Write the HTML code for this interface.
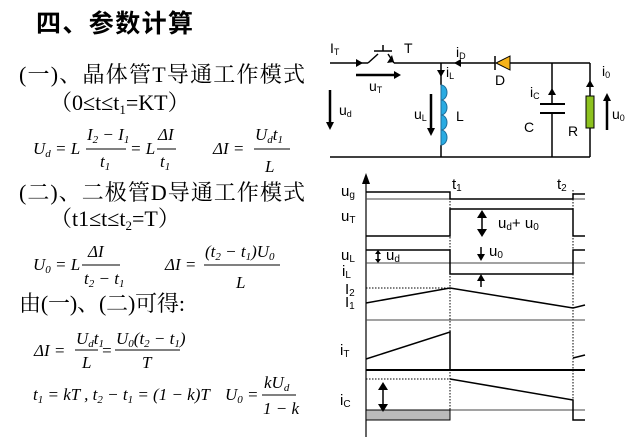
<!DOCTYPE html>
<html><head><meta charset="utf-8"><style>
html,body{margin:0;padding:0;background:#fff;}
svg{display:block;}
.cn{font-family:"Liberation Serif","Noto Serif CJK SC",serif;}
.m{font-family:"Liberation Serif",serif;font-style:italic;}
.s{font-family:"Liberation Sans",sans-serif;}
</style></head><body>
<svg width="637" height="440" viewBox="0 0 637 440" xmlns="http://www.w3.org/2000/svg">
<rect width="637" height="440" fill="#fff"/>
<text x="36" y="32" font-size="25" font-weight="bold" font-family="Liberation Sans,Noto Sans CJK SC,sans-serif" textLength="157">四、参数计算</text>
<text class="cn" x="19" y="82" font-size="22" textLength="286">(一)、晶体管T导通工作模式</text>
<text class="cn" x="50" y="110" font-size="22">（0≤t≤t<tspan font-size="13" dy="4">1</tspan><tspan dy="-4">=KT）</tspan></text>
<g class="m" font-size="17">
<text x="33" y="154">U<tspan font-size="11" dy="3">d</tspan><tspan dy="-3"> = L</tspan></text>
<text x="87" y="140">I<tspan font-size="11" dy="3">2</tspan><tspan dy="-3"> − I</tspan><tspan font-size="11" dy="3">1</tspan></text>
<line x1="86" y1="149" x2="126" y2="149" stroke="#000" stroke-width="1"/>
<text x="100" y="167">t<tspan font-size="11" dy="3">1</tspan></text>
<text x="130" y="154">= L</text>
<text x="158" y="140">ΔI</text>
<line x1="157" y1="149" x2="176" y2="149" stroke="#000"/>
<text x="160" y="167">t<tspan font-size="11" dy="3">1</tspan></text>
<text x="213" y="154">ΔI =</text>
<text x="255" y="140">U<tspan font-size="11" dy="3">d</tspan><tspan dy="-3">t</tspan><tspan font-size="11" dy="3">1</tspan></text>
<line x1="254" y1="149" x2="290" y2="149" stroke="#000"/>
<text x="265" y="172">L</text>
</g>
<text class="cn" x="19" y="200" font-size="22" textLength="286">(二)、二极管D导通工作模式</text>
<text class="cn" x="50" y="226" font-size="22">（t1≤t≤t<tspan font-size="13" dy="4">2</tspan><tspan dy="-4">=T）</tspan></text>
<g class="m" font-size="17">
<text x="33" y="270">U<tspan font-size="11" dy="3">0</tspan><tspan dy="-3"> = L</tspan></text>
<text x="88" y="257">ΔI</text>
<line x1="82" y1="265" x2="120" y2="265" stroke="#000"/>
<text x="84" y="284">t<tspan font-size="11" dy="3">2</tspan><tspan dy="-3"> − t</tspan><tspan font-size="11" dy="3">1</tspan></text>
<text x="165" y="270">ΔI =</text>
<text x="205" y="257">(t<tspan font-size="11" dy="3">2</tspan><tspan dy="-3"> − t</tspan><tspan font-size="11" dy="3">1</tspan><tspan dy="-3">)U</tspan><tspan font-size="11" dy="3">0</tspan></text>
<line x1="204" y1="265" x2="280" y2="265" stroke="#000"/>
<text x="236" y="288">L</text>
</g>
<text class="cn" x="19" y="311" font-size="22" textLength="166">由(一)、(二)可得:</text>
<g class="m" font-size="17">
<text x="34" y="356">ΔI =</text>
<text x="76" y="344">U<tspan font-size="11" dy="3">d</tspan><tspan dy="-3">t</tspan><tspan font-size="11" dy="3">1</tspan></text>
<line x1="75" y1="350" x2="98" y2="350" stroke="#000"/>
<text x="82" y="368">L</text>
<text x="101" y="356">=</text>
<text x="116" y="344">U<tspan font-size="11" dy="3">0</tspan><tspan dy="-3">(t</tspan><tspan font-size="11" dy="3">2</tspan><tspan dy="-3"> − t</tspan><tspan font-size="11" dy="3">1</tspan><tspan dy="-3">)</tspan></text>
<line x1="115" y1="350" x2="180" y2="350" stroke="#000"/>
<text x="142" y="368">T</text>
<text x="33" y="400">t<tspan font-size="11" dy="3">1</tspan><tspan dy="-3"> = kT , t</tspan><tspan font-size="11" dy="3">2</tspan><tspan dy="-3"> − t</tspan><tspan font-size="11" dy="3">1</tspan><tspan dy="-3"> = (1 − k)T</tspan></text>
<text x="225" y="400">U<tspan font-size="11" dy="3">0</tspan><tspan dy="-3"> =</tspan></text>
<text x="264" y="388">kU<tspan font-size="11" dy="3">d</tspan></text>
<line x1="262" y1="395" x2="296" y2="395" stroke="#000"/>
<text x="263" y="414">1 − k</text>
</g>

<g stroke="#000" stroke-width="1.5" fill="none">
<line x1="330" y1="63" x2="368" y2="63"/>
<line x1="368" y1="63" x2="378" y2="54"/>
<line x1="374" y1="51" x2="392" y2="51"/>
<line x1="383" y1="51" x2="383" y2="45"/>
<line x1="388" y1="54" x2="394" y2="63"/>
<line x1="394" y1="63" x2="495" y2="63"/>
<line x1="510" y1="63" x2="590" y2="63"/>
<line x1="330" y1="157" x2="590" y2="157"/>
<line x1="441" y1="63" x2="441" y2="85"/>
<line x1="441" y1="145" x2="441" y2="157"/>
<line x1="552" y1="63" x2="552" y2="104"/>
<line x1="552" y1="113" x2="552" y2="157"/>
<line x1="540" y1="104" x2="565" y2="104" stroke-width="2"/>
<line x1="540" y1="113" x2="565" y2="113" stroke-width="2"/>
<line x1="590" y1="63" x2="590" y2="96"/>
<line x1="590" y1="128" x2="590" y2="157"/>
<line x1="495" y1="56" x2="495" y2="70"/>
</g>
<polygon points="510,56 510,70 496,63" fill="#f5b21a" stroke="#000" stroke-width="1"/>
<g fill="#29abe2" stroke="#1d6e9a" stroke-width="1">
<path d="M441,85 a6,7.5 0 0 1 0,15 Z"/><path d="M441,100 a6,7.5 0 0 1 0,15 Z"/>
<path d="M441,115 a6,7.5 0 0 1 0,15 Z"/><path d="M441,130 a6,7.5 0 0 1 0,15 Z"/>
</g>
<rect x="586" y="96" width="8" height="32" fill="#8dc21f" stroke="#000" stroke-width="1"/>
<g fill="#000">
<polygon points="356,59 356,67 363,63"/>
<polygon points="387,63 392,55 394,62"/>
<polygon points="461,59 461,67 454,63"/>
<polygon points="437,70 445,70 441,77"/>
<polygon points="548,95 556,95 552,88"/>
<polygon points="586,87 594,87 590,80"/>
</g>
<g stroke="#000" stroke-width="2.5">
<line x1="356" y1="75" x2="394" y2="75"/><line x1="330" y1="90" x2="330" y2="124"/>
<line x1="431" y1="94" x2="431" y2="130"/><line x1="607" y1="130" x2="607" y2="100"/>
</g>
<g fill="#000">
<polygon points="394,71 394,79 401,75"/>
<polygon points="326,122 334,122 330,130"/>
<polygon points="427,128 435,128 431,136"/>
<polygon points="603,101 611,101 607,93"/>
</g>
<g class="s" font-size="14">
<text x="330" y="53">I<tspan font-size="9" dy="2">T</tspan></text>
<text x="404" y="53">T</text>
<text x="369" y="91">u<tspan font-size="9" dy="2">T</tspan></text>
<text x="456" y="57">i<tspan font-size="9" dy="2">D</tspan></text>
<text x="446" y="77">i<tspan font-size="9" dy="2">L</tspan></text>
<text x="495" y="85">D</text>
<text x="339" y="115">u<tspan font-size="9" dy="2">d</tspan></text>
<text x="414" y="119">u<tspan font-size="9" dy="2">L</tspan></text>
<text x="456" y="121">L</text>
<text x="530" y="97">i<tspan font-size="9" dy="2">C</tspan></text>
<text x="524" y="132">C</text>
<text x="568" y="136">R</text>
<text x="602" y="76">i<tspan font-size="9" dy="2">0</tspan></text>
<text x="612" y="119">u<tspan font-size="9" dy="2">0</tspan></text>
</g>

<line x1="366" y1="176" x2="366" y2="437" stroke="#000" stroke-width="1.2"/>
<polygon points="362,184 370,184 366,173" fill="#000"/>
<g stroke="#000" stroke-width="1" stroke-dasharray="1.5,1.5">
<line x1="450" y1="192" x2="450" y2="420"/>
<line x1="573" y1="190" x2="573" y2="420"/>
<line x1="366" y1="288" x2="450" y2="288"/>
<line x1="366" y1="379" x2="450" y2="379"/>
</g>
<g stroke="#444" stroke-width="1">
<line x1="366" y1="199" x2="585" y2="199"/>
<line x1="366" y1="263" x2="585" y2="263"/>
<line x1="366" y1="320" x2="585" y2="320"/>
<line x1="366" y1="410" x2="585" y2="410"/>
</g>
<rect x="366" y="410" width="84" height="10" fill="#bbb" stroke="#000" stroke-width="1"/>
<g stroke="#000" stroke-width="1.5" fill="none">
<polyline points="366,192 450,192 450,199 573,199 573,194 585,194"/>
<polyline points="366,236 450,236 450,209 573,209 573,236 585,236"/>
<polyline points="366,250 450,250 450,274 573,274 573,250 585,250"/>
<polyline points="366,303 450,288 573,308 585,305"/>
<polyline points="366,359 450,332 450,370"/>
<line x1="366" y1="370" x2="585" y2="370" stroke-width="2"/>
<polyline points="573,358 585,355"/>
<polyline points="450,379 573,400 573,420 585,420"/>
<line x1="482" y1="213" x2="482" y2="234"/>
<line x1="378" y1="252" x2="378" y2="261"/>
<line x1="481" y1="247" x2="481" y2="254"/>
<line x1="481" y1="280" x2="481" y2="287"/>
<line x1="383" y1="386" x2="383" y2="408"/>
</g>
<g fill="#000">
<polygon points="477,218 487,218 482,210"/><polygon points="477,229 487,229 482,237"/>
<polygon points="375,254 381,254 378,250"/><polygon points="375,259 381,259 378,263"/>
<polygon points="477,254 485,254 481,261"/>
<polygon points="477,281 485,281 481,274"/>
<polygon points="378,390 388,390 383,382"/><polygon points="378,404 388,404 383,412"/>
</g>
<g class="s" font-size="15">
<text x="341" y="196">u<tspan font-size="10" dy="2">g</tspan></text>
<text x="341" y="221">u<tspan font-size="10" dy="2">T</tspan></text>
<text x="341" y="260">u<tspan font-size="10" dy="2">L</tspan></text>
<text x="342" y="276">i<tspan font-size="10" dy="2">L</tspan></text>
<text x="345" y="294">I<tspan font-size="10" dy="2">2</tspan></text>
<text x="345" y="307">I<tspan font-size="10" dy="2">1</tspan></text>
<text x="340" y="355">i<tspan font-size="10" dy="2">T</tspan></text>
<text x="340" y="405">i<tspan font-size="10" dy="2">C</tspan></text>
<text x="452" y="189">t<tspan font-size="10" dy="2">1</tspan></text>
<text x="557" y="189">t<tspan font-size="10" dy="2">2</tspan></text>
<text x="498" y="228">u<tspan font-size="10" dy="2">d</tspan><tspan dy="-2">+ u</tspan><tspan font-size="10" dy="2">0</tspan></text>
<text x="386" y="260">u<tspan font-size="10" dy="2">d</tspan></text>
<text x="489" y="256">u<tspan font-size="10" dy="2">0</tspan></text>
</g>
</svg>
</body></html>
